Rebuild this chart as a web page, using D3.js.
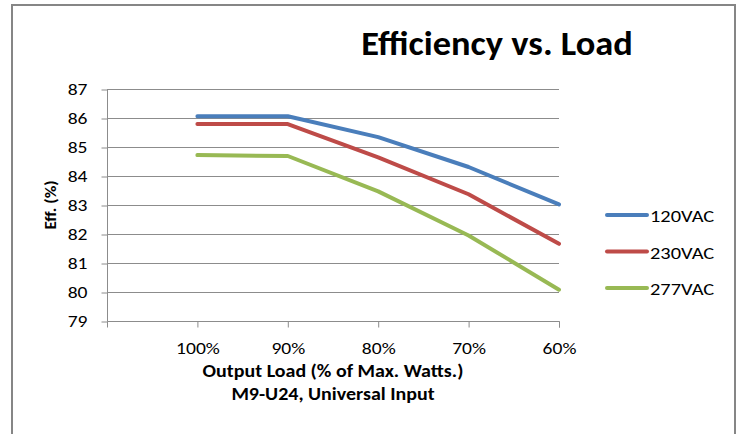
<!DOCTYPE html>
<html>
<head>
<meta charset="utf-8">
<script src="https://cdn.jsdelivr.net/npm/d3@7"></script>
<style>
  body { margin: 0; background: #fff; }
  text { font-family: Carlito, Calibri, Lato, sans-serif; fill: #000; }
</style>
</head>
<body>
<div id="chart"></div>
<script>
// Data
var loads = ['100%', '90%', '80%', '70%', '60%'];
var vac120 = [86.06, 86.06, 85.34, 84.31, 83.02];
var vac230 = [85.79, 85.79, 84.64, 83.37, 81.66];
var vac277 = [84.72, 84.69, 83.47, 81.95, 80.08];
var seriesNames = ['120VAC', '230VAC', '277VAC'];
var yTicks = [79, 80, 81, 82, 83, 84, 85, 86, 87];

var width = 742,
  height = 434;

var svg = d3.select('#chart')
  .append('svg')
  .attr('width', width)
  .attr('height', height);

// outer chart frame
svg.append('path')
  .attr('d', 'M12,440 V5 H735 V440')
  .attr('fill', 'none')
  .attr('stroke', '#868686')
  .attr('stroke-width', 2);

var plot = { left: 107, right: 559, top: 89, bottom: 321 };

// the category axis has one empty slot before the first load
var step = (plot.right - plot.left) / loads.length;
var xScale = d3.scalePoint()
  .domain(loads)
  .range([plot.left + step, plot.right]);

var yScale = d3.scaleLinear()
  .domain([79, 87])
  .range([plot.bottom, plot.top]);

// gridlines
svg.append('g')
  .selectAll('line')
  .data(yTicks.slice(1))
  .enter()
  .append('line')
  .attr('x1', plot.left)
  .attr('x2', plot.right)
  .attr('y1', function(d) { return yScale(d) + 0.5; })
  .attr('y2', function(d) { return yScale(d) + 0.5; })
  .attr('stroke', '#8c8c8c')
  .attr('stroke-width', 1);

// y axis
var yAxis = svg.append('g')
  .attr('transform', 'translate(' + (plot.left + 0.5) + ',0.5)')
  .call(d3.axisLeft(yScale).tickValues(yTicks).tickSize(6).tickPadding(14));
yAxis.select('.domain').attr('stroke', '#8c8c8c').attr('d', 'M0,' + plot.top + 'V' + plot.bottom);
yAxis.selectAll('.tick line').attr('stroke', '#8c8c8c');
yAxis.selectAll('.tick text').style('font-size', '17px').attr('fill', '#000');

// x axis
var xAxis = svg.append('g')
  .attr('transform', 'translate(0,' + (plot.bottom + 0.5) + ')')
  .call(d3.axisBottom(xScale).tickSize(6).tickPadding(14));
xAxis.select('.domain').attr('stroke', '#8c8c8c').attr('d', 'M' + (plot.left + 0.5) + ',6V0H' + (plot.right + 0.5) + 'V6');
xAxis.selectAll('.tick line').attr('stroke', '#8c8c8c');
xAxis.selectAll('.tick text').style('font-size', '17px').attr('fill', '#000');

// lines
var colorScale = d3.scaleOrdinal()
  .domain(seriesNames)
  .range(['#4a7ebb', '#be4b48', '#98b954']);

var series = [vac120, vac230, vac277].map(function(vals, i) {
  return { key: seriesNames[i], values: vals };
});

var line = d3.line()
  .x(function(d, i) { return xScale(loads[i]); })
  .y(function(d) { return yScale(d); });

svg.append('g')
  .selectAll('path')
  .data(series)
  .enter()
  .append('path')
  .attr('d', function(d) { return line(d.values); })
  .attr('fill', 'none')
  .attr('stroke', function(d) { return colorScale(d.key); })
  .attr('stroke-width', 4)
  .attr('stroke-linejoin', 'round')
  .attr('stroke-linecap', 'round');

// title
svg.append('text')
  .attr('x', 497)
  .attr('y', 55)
  .attr('text-anchor', 'middle')
  .attr('data-s', 1.07)
  .style('font-size', '34px')
  .style('font-weight', 'bold')
  .text('Efficiency vs. Load');

// y axis title
svg.append('text')
  .attr('transform', 'translate(56,205) rotate(-90)')
  .attr('text-anchor', 'middle')
  .style('font-size', '15px')
  .style('font-weight', 'bold')
  .text('Eff. (%)');

// x axis titles
svg.append('text')
  .attr('x', 333)
  .attr('y', 377)
  .attr('text-anchor', 'middle')
  .attr('data-s', 1.11)
  .style('font-size', '18px')
  .style('font-weight', 'bold')
  .text('Output Load (% of Max. Watts.)');

svg.append('text')
  .attr('x', 333)
  .attr('y', 400)
  .attr('text-anchor', 'middle')
  .attr('data-s', 1.11)
  .style('font-size', '18px')
  .style('font-weight', 'bold')
  .text('M9-U24, Universal Input');

// legend
var legend = svg.selectAll('.legend')
  .data(seriesNames)
  .enter()
  .append('g')
  .attr('transform', function(d, i) {
    return 'translate(607,' + (215 + i * 36.5) + ')';
  });

legend.append('line')
  .attr('x1', 0)
  .attr('x2', 40)
  .attr('stroke', colorScale)
  .attr('stroke-width', 4)
  .attr('stroke-linecap', 'round');

legend.append('text')
  .attr('x', 43)
  .attr('y', 7)
  .attr('data-s', 1.2)
  .style('font-size', '17px')
  .text(function(d) { return d; });

// the reference text is drawn a little wider than the font, stretch it
svg.selectAll('text').each(function() {
  var s = +(this.getAttribute('data-s') || 1.15);
  var w = this.getComputedTextLength();
  this.setAttribute('textLength', w * s);
  this.setAttribute('lengthAdjust', 'spacingAndGlyphs');
});
</script>
</body>
</html>
